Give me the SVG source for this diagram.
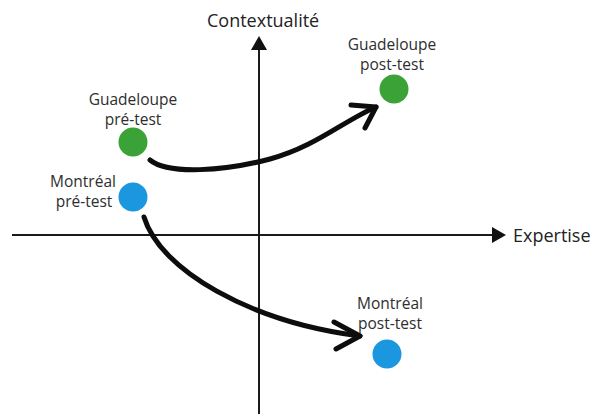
<svg xmlns="http://www.w3.org/2000/svg" width="592" height="416" viewBox="0 0 592 416">
<style>
.axis{stroke:#1a1a1a;stroke-width:2;fill:none}
.head{fill:#111}
.arr{stroke:#0d0d0d;stroke-width:5;fill:none;stroke-linecap:round;stroke-linejoin:round}
.lbl{font-family:"Open Sans","Noto Sans",sans-serif;font-size:15.5px;fill:#2e2e2e;text-anchor:middle}
.ax{font-family:"Open Sans","Noto Sans",sans-serif;font-size:18px;fill:#222}
.g{fill:#3ba237}
.b{fill:#1b97e0}
</style>
<rect width="592" height="416" fill="#fff"/>
<g id="axes">
<line class="axis" x1="259" y1="46" x2="259" y2="414"/>
<polygon class="head" points="259,36 251,50 267,50"/>
<line class="axis" x1="12" y1="235" x2="495" y2="235"/>
<polygon class="head" points="506,235 492,227 492,243"/>
<text class="ax" x="207" y="27">Contextualité</text>
<text class="ax" x="513" y="242">Expertise</text>
</g>
<g id="connectors">
<path class="arr" d="M150,160 C168,175 225,171 270,159 S345,120 376,107"/>
<polyline class="arr" points="351,105 376,107 365,128"/>
<path class="arr" d="M144,217 C160,270 250,322 360,336"/>
<polyline class="arr" points="334,322 360,336 336,349"/>
</g>
<g id="guadeloupe-pre">
<circle class="g" cx="133" cy="142" r="14.5"/>
<text class="lbl" x="133" y="105">Guadeloupe</text>
<text class="lbl" x="133" y="125">pré-test</text>
</g>
<g id="guadeloupe-post">
<circle class="g" cx="394" cy="89" r="14.5"/>
<text class="lbl" x="392" y="50">Guadeloupe</text>
<text class="lbl" x="392" y="70">post-test</text>
</g>
<g id="montreal-pre">
<circle class="b" cx="133" cy="197" r="14.5"/>
<text class="lbl" x="83" y="187">Montréal</text>
<text class="lbl" x="84" y="207">pré-test</text>
</g>
<g id="montreal-post">
<circle class="b" cx="387" cy="354" r="14.5"/>
<text class="lbl" x="390" y="309">Montréal</text>
<text class="lbl" x="390" y="329">post-test</text>
</g>
</svg>
